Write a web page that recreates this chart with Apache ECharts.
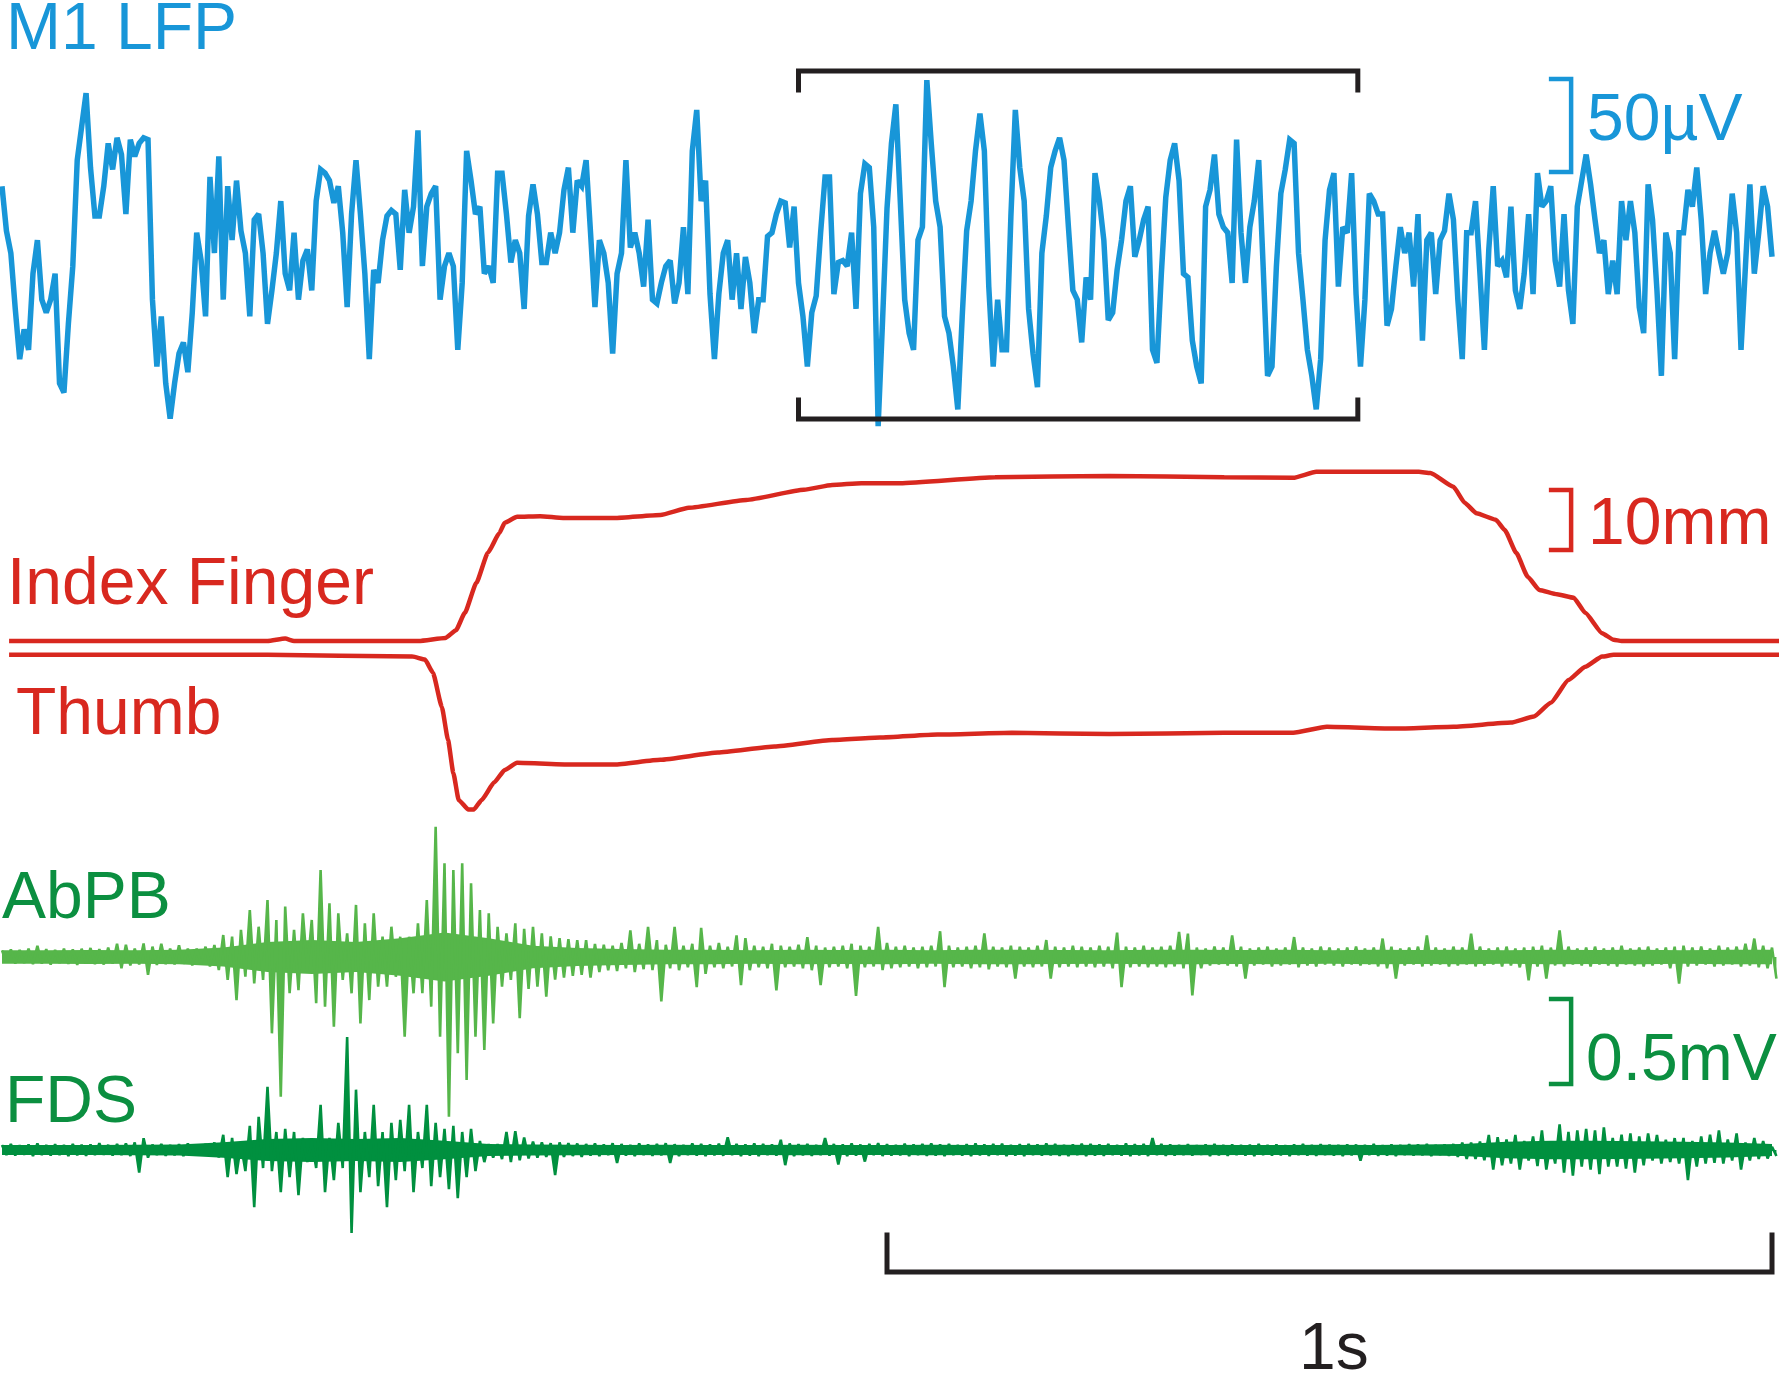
<!DOCTYPE html>
<html><head><meta charset="utf-8">
<script src="https://cdn.jsdelivr.net/npm/echarts/dist/echarts.min.js"></script>
<style>html,body{margin:0;padding:0;background:#fff}#c{width:1779px;height:1376px}</style>
</head><body><div id="c"></div>
<script>
// ---------------- DATA ----------------
// M1 LFP, sampled every 5 ms, values in microvolts
const lfpStepMs = 5;
const lfpUV = [
37,13,1,-29,-56,-40,-51,-10,8,-24,
-31,-24,-10,-69,-74,-37,-6,51,69,87,
47,21,21,37,60,46,63,54,22,62,
53,60,63,62,-24,-60,-33,-69,-88,-69,
-53,-47,-63,-31,12,-3,-33,42,1,53,
-24,37,8,40,13,1,-33,19,22,1,
-37,-19,1,29,-10,-19,12,-24,-3,3,
-19,29,46,44,40,28,37,12,-28,22,
51,22,-10,-56,-8,-15,8,21,24,22,
-8,35,12,26,67,-6,26,33,37,-24,
-6,1,
-6,-51,-15,56,40,22,26,-10,-6,-15,
44,44,22,-4,8,1,-29,21,38,22,
-4,-4,12,1,12,35,47,12,40,37,
51,12,-28,8,1,-15,-53,-10,1,51,
4,12,1,-17,19,-24,-26,-15,-6,-3,
-26,-15,15,-21,56,78,29,40,-21,-56,
-21,1,8,-24,1,-29,-1,-15,-42,-24,
-24,10,12,22,29,28,4,26,-15,-33,
-60,-31,-22,12,42,42,-21,-4,-3,-6,
12,-29,33,49,47,15,-92,-35,25,
60,81,29,-24,-42,-51,8,15,94,60,
29,15,-33,-42,-60,-83,-33,13,29,56,
76,56,-17,-60,-24,-51,-51,21,78,47,
29,-29,-53,-71,1,21,47,56,63,51,
15,-19,-24,-47,-12,-24,44,29,8,-35,
-31,-8,8,29,37,-1,8,19,26,-51,
-58,-10,31,51,60,40,-10,-12,-46,-60,
-69,26,35,54,22,15,12,-15,62,12,
-15,15,29,51,-6,-65,-60,-6,33,46,
62,60,1,-24,-51,-65,-83,-56,8,35,
44,-17,15,12,44,-21,-60,-24,33,29,
22,22,-38,-29,-6,15,1,12,-17,22,
-46,8,12,-21,8,13,33,19,-24,-56,
12,12,29,-10,-51,3,37,-6,-3,-12,
26,-19,-29,-10,22,-21,44,26,29,37,
-3,-17,22,-19,-37,26,40,54,38,19,
1,8,-21,-3,-21,29,8,29,12,-28,
-42,38,19,-19,-65,12,1,-56,12,12,
35,26,47,19,-21,1,13,1,-10,1,
33,12,-51,-6,38,-10,12,37,26,-1
];

// Index finger position [ms, mm]
const indexFingerMm = [
[8,0],[300,0],[320,0.4],[330,0],[471,0],[501,0.5],[513,1.8],[523,4.7],[536,9.7],[549,14.7],
[562,18],[568,19.7],[582,20.7],[608,20.8],[634,20.5],[692,20.5],[744,21],[776,22.2],[841,23.5],
[906,25.2],[938,26],[971,26.3],[1015,26.3],[1122,27.3],[1251,27.5],[1381,27.3],[1459,27.2],
[1485,28.2],[1601,28.2],[1614,28.0],[1640,25.7],[1653,23.0],[1666,21.3],[1688,20.2],[1698,18.5],
[1711,14.7],[1724,10.7],[1737,8.5],[1757,7.8],[1776,7.2],[1789,4.7],[1808,1.3],[1821,0.2],
[1830,0],[2008,0]
];
// Thumb position [ms, mm]
const thumbMm = [
[8,0],[300,0],[464,-0.3],[478,-0.8],[487,-3],[497,-8.7],[504,-14.2],[510,-19.7],[516,-24.2],
[527,-25.8],[533,-25.8],[542,-24.2],[556,-21.3],[568,-19.2],[582,-18],[646,-18.3],[692,-18.3],
[744,-17.5],[809,-16.3],[873,-15.3],[938,-14.2],[992,-13.8],[1057,-13.3],[1141,-13],[1251,-13.2],
[1381,-13],[1459,-13],[1497,-12],[1575,-12.3],[1640,-12],[1705,-11.3],[1731,-10.3],[1750,-8],
[1770,-4.2],[1789,-2],[1808,-0.3],[1821,0],[2008,0]
];

// EMG spike envelopes, 10 ms bins, peak (hi) and trough (lo) in microvolts
const emgBinMs = 10;
const abpbHiUV = [
35,40,38,45,60,42,38,45,40,44,48,42,50,70,65,45,72,55,70,45,62,45,
45,55,64,117,108,144,250,161,303,197,268,144,232,197,463,285,232,126,277,179,232,108,161,108,108,179,303,693,498,463,498,392,250,232,161,126,
179,150,161,126,110,100,95,90,
90,70,65,60,75,142,70,160,90,65,160,60,70,155,60,75,55,115,100,60,
55,70,60,55,65,105,60,50,55,60,70,60,55,160,75,55,60,50,55,60,
137,60,50,55,60,125,55,50,60,55,50,60,90,55,50,60,55,50,60,55,
130,55,50,60,50,55,60,
133,124,50,45,55,50,115,55,45,50,55,45,50,106,50,45,55,50,45,50,
55,45,50,98,55,45,50,55,115,50,45,55,50,124,55,45,50,55,45,50,
55,60,50,142,55,45,50,55,45,50,60,45,50,55,45,50,55,60,50,55,
45,60,50,55,70,98,60,50
];
const abpbLoUV = [
-30,-35,-32,-38,-35,-40,-33,-36,-42,-35,-38,-40,-36,-60,-45,-40,-95,-42,-38,-40,-36,-45,
-40,-51,-69,-122,-229,-105,-140,-122,-406,-743,-193,-176,-69,-246,-264,-371,-122,-193,-353,-229,-158,-158,-105,-424,-193,-193,-264,-424,-849,-512,-654,-424,-495,-353,-158,-122,
-326,-170,-158,-211,-120,-110,-100,-95,
-110,-80,-70,-75,-60,-80,-65,-70,-236,-60,-70,-55,-160,-90,-55,-60,-50,-150,-70,-55,
-60,-177,-55,-50,-60,-70,-150,-55,-50,-60,-207,-55,-50,-70,-60,-55,-50,-60,-55,-50,
-160,-55,-50,-60,-55,-65,-50,-55,-115,-50,-55,-50,-115,-55,-50,-55,-50,-55,-50,-60,
-160,-55,-50,-55,-50,-55,-50,
-60,-204,-60,-45,-40,-45,-50,-115,-45,-40,-50,-45,-40,-55,-45,-50,-40,-45,-50,-40,
-45,-40,-50,-60,-115,-45,-40,-50,-45,-40,-50,-45,-40,-50,-45,-40,-50,-45,-55,-124,
-50,-115,-45,-50,-40,-45,-50,-40,-45,-50,-40,-45,-50,-45,-40,-60,-142,-50,-45,-40,
-50,-45,-40,-50,-45,-55,-60,-115
];
const fdsHiUV = [
30,35,28,32,38,30,34,29,36,31,33,40,30,35,38,45,69,32,36,30,34,38,
27,35,44,89,71,35,142,195,372,106,124,106,71,53,266,71,160,665,355,106,266,106,160,177,266,106,266,160,124,142,106,124,53,35,35,106,
110,74,50,45,40,45,40,38,
35,38,32,40,35,30,38,33,36,40,34,30,38,35,32,37,74,36,33,38,
35,32,60,38,34,36,30,70,35,33,38,32,36,40,34,30,37,33,35,38,
32,36,30,34,38,33,35,37,30,34,36,32,38,35,30,33,37,35,32,36,
30,38,34,35,70,36,33,
30,34,28,32,35,30,33,29,31,36,30,33,28,32,35,30,34,31,29,33,
32,30,35,28,33,30,34,32,36,30,33,35,
44,44,50,89,75,62,89,53,80,115,44,151,106,115,124,115,133,71,90,98,
80,98,89,60,70,71,53,80,90,115,62,98,44,70,53,18
];
const fdsLoUV = [
-30,-32,-28,-35,-30,-33,-29,-36,-31,-34,-30,-28,-33,-30,-35,-133,-45,-30,-34,-31,-36,-32,
-27,-35,-44,-160,-142,-124,-337,-106,-124,-248,-160,-266,-71,-106,-248,-177,-106,-488,-248,-160,-213,-337,-177,-124,-248,-106,-213,-160,-230,-284,-160,-124,-71,-44,-53,-71,
-60,-50,-45,-40,-147,-40,-35,-40,
-32,-35,-30,-76,-33,-36,-30,-34,-31,-76,-35,-30,-33,-36,-31,-34,-30,-35,-32,-36,
-30,-33,-89,-35,-31,-34,-30,-33,-85,-36,-32,-68,-30,-35,-33,-31,-36,-30,-34,-32,
-35,-30,-33,-36,-31,-34,-30,-35,-32,-36,-30,-33,-31,-34,-36,-30,-35,-32,-34,-30,
-33,-36,-31,-35,-30,-34,-32,
-30,-33,-28,-35,-31,-34,-29,-32,-36,-30,-33,-31,-35,-29,-32,-34,-30,-33,-36,-31,
-62,-30,-34,-32,-35,-30,-33,-31,-36,-30,-34,-40,
-53,-53,-60,-115,-90,-80,-115,-62,-95,-115,-80,-133,-151,-97,-115,-142,-97,-97,-110,-133,
-90,-62,-80,-70,-80,-177,-97,-80,-75,-80,-62,-115,-62,-53,-50,-35
];
// half-width of the solid EMG core band, every 50 ms, in microvolts
const emgCoreStepMs = 50;
const abpbCoreUV = [36,36,37,36,38,50,80,90,80,100,130,100,60,48,42,38,
  38,36,39,37,38,36,39,38,37,36,38,39,37,38,36,38,37,39,36,38,37,38,36,39,38];
const fdsCoreUV = [30,30,30,31,32,45,65,70,65,70,55,36,32,31,30,31,30,30,31,30,
  30,31,30,30,31,30,30,31,30,30,31,30,32,36,48,55,55,52,48,44,36];

// scale bars & highlighted epoch
const scaleLfpUV = 50, scaleFingerMm = 10, scaleEmgUV = 500, scaleTimeMs = 1000;
const lfpWindowMs = [900, 1532];

// ---------------- LAYOUT ----------------
const W = 1779;
const X0 = -2.26, X1 = 2007.9;
const BLUE = '#1896d8', RED = '#d8281f', LGREEN = '#56b64a', DGREEN = '#00903f', TGREEN = '#0b8f40', BLACK = '#231f20';
const thumbBaselineMm = -2.3;

const grids = [
  {left:0, width:W, top:0, height:510},     // LFP
  {left:0, width:W, top:441, height:400},   // fingers
  {left:0, width:W, top:707, height:500},   // AbPB
  {left:0, width:W, top:924, height:500}    // FDS
];
const yRanges = [137.1, 33.333, 1329.8, 1329.8];

function zig(hi, lo){
  const out = [];
  for (let k = 0; k < hi.length; k++){
    out.push([k*emgBinMs, hi[k]]);
    if (k < lo.length) out.push([k*emgBinMs + emgBinMs/2, lo[k]]);
  }
  return out;
}
// solid core band drawn through the axes
function coreSeries(idx, core, color){
  return {
    type:'custom', xAxisIndex:idx, yAxisIndex:idx, data:[[0,0]], silent:true, z:2,
    renderItem: function(params, api){
      const pts = [];
      for (let i = 0; i < core.length; i++) pts.push(api.coord([i*emgCoreStepMs, core[i]]));
      for (let i = core.length - 1; i >= 0; i--) pts.push(api.coord([i*emgCoreStepMs, -core[i]]));
      return {type:'polygon', shape:{points:pts}, style:{fill:color}};
    }
  };
}
function spikeSeries(idx, hi, lo, color){
  return {type:'line', xAxisIndex:idx, yAxisIndex:idx, showSymbol:false, symbol:'none', z:3,
    data: zig(hi, lo), lineStyle:{color:color, width:2.6},
    areaStyle:{color:color, opacity:1, origin:'auto'}};
}
function pathSeries(idx, pts, color, width){
  return {type:'line', xAxisIndex:idx, yAxisIndex:idx, data:pts, showSymbol:false, symbol:'none',
    lineStyle:{color:color, width:width, cap:'square', join:'miter'}, z:5, silent:true};
}

const series = [];
series.push({type:'line', xAxisIndex:0, yAxisIndex:0, showSymbol:false, symbol:'none',
  data: lfpUV.map((v,i)=>[i*lfpStepMs, v]),
  lineStyle:{color:BLUE, width:5.5, join:'miter', miterLimit:2.5}});
series.push({type:'line', xAxisIndex:1, yAxisIndex:1, showSymbol:false, symbol:'none',
  smooth:0.15, smoothMonotone:'x',
  data: indexFingerMm, lineStyle:{color:RED, width:4.5}});
series.push({type:'line', xAxisIndex:1, yAxisIndex:1, showSymbol:false, symbol:'none',
  smooth:0.15, smoothMonotone:'x',
  data: thumbMm.map(p=>[p[0], p[1] + thumbBaselineMm]), lineStyle:{color:RED, width:4.5}});
series.push(coreSeries(2, abpbCoreUV, LGREEN));
series.push(spikeSeries(2, abpbHiUV, abpbLoUV, LGREEN));
series.push(coreSeries(3, fdsCoreUV, DGREEN));
series.push(spikeSeries(3, fdsHiUV, fdsLoUV, DGREEN));

// LFP epoch brackets
const [wa, wb] = lfpWindowMs;
series.push(pathSeries(0, [[wa,88.7],[wa,98.9],[wb,98.9],[wb,88.7]], BLACK, 5));
series.push(pathSeries(0, [[wa,-78],[wa,-88.2],[wb,-88.2],[wb,-78]], BLACK, 5));
// scale bars
const barX = 1773, tick = 22.6;
series.push(pathSeries(0, [[barX-tick,44.6+scaleLfpUV],[barX,44.6+scaleLfpUV],[barX,44.6],[barX-tick,44.6]], BLUE, 4.5));
series.push(pathSeries(1, [[barX-tick,15.17+scaleFingerMm],[barX,15.17+scaleFingerMm],[barX,15.17],[barX-tick,15.17]], RED, 4.5));
series.push(pathSeries(3, [[barX-tick,388+scaleEmgUV],[barX,388+scaleEmgUV],[barX,388],[barX-tick,388]], TGREEN, 4.5));
series.push(pathSeries(3, [[1000,-500],[1000,-718],[1000+scaleTimeMs,-718],[1000+scaleTimeMs,-500]], BLACK, 5));

const FONT = '66px "Liberation Sans", Arial, sans-serif';
function label(text, left, top, color){
  return {type:'text', left:left, top:top, z:10, style:{text:text, font:FONT, fill:color}};
}

const chart = echarts.init(document.getElementById('c'), null, {renderer:'canvas'});
chart.setOption({
  animation:false,
  backgroundColor:'#ffffff',
  grid: grids,
  xAxis: grids.map((g,i)=>({gridIndex:i, type:'value', min:X0, max:X1, show:false})),
  yAxis: grids.map((g,i)=>({gridIndex:i, type:'value', min:-yRanges[i], max:yRanges[i], show:false})),
  series: series,
  graphic: [
    label('M1 LFP', 6, -2, BLUE),
    label('50\u00b5V', 1587, 89, BLUE),
    label('Index Finger', 7, 553, RED),
    label('Thumb', 16, 683, RED),
    label('10mm', 1588, 493, RED),
    label('AbPB', 2, 867, TGREEN),
    label('FDS', 5, 1071, TGREEN),
    label('0.5mV', 1586, 1029, TGREEN),
    label('1s', 1299, 1318, BLACK)
  ]
});
</script></body></html>
